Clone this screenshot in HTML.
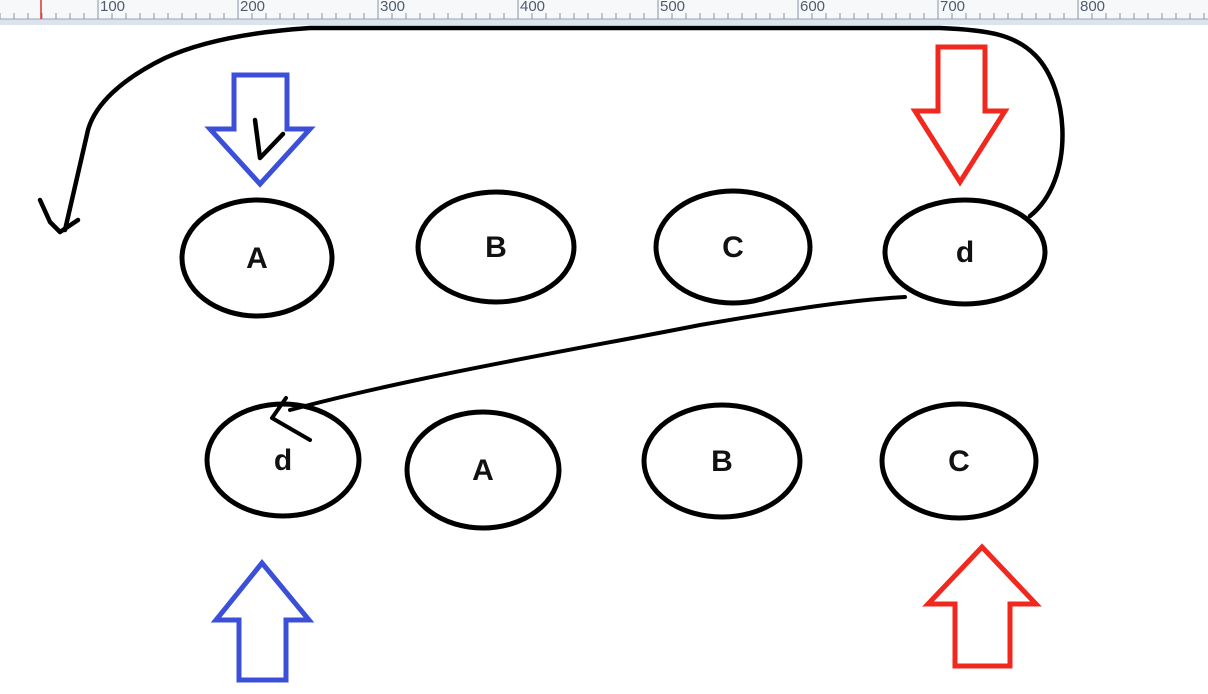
<!DOCTYPE html>
<html><head><meta charset="utf-8"><style>
html,body{margin:0;padding:0;background:#fff;}
svg{display:block;}
text{font-family:"Liberation Sans",sans-serif;font-weight:bold;}
</style></head><body>
<svg id="s" width="1208" height="694" viewBox="0 0 1208 694" xmlns="http://www.w3.org/2000/svg">
<rect x="0" y="0" width="1208" height="19" fill="#f7f8fa"/>
<rect x="0" y="19" width="1208" height="6" fill="#dde3ec"/>
<line x1="0" y1="19" x2="1208" y2="19" stroke="#9aa3b0" stroke-width="1"/>
<g id="ticks"></g>
<line x1="41" y1="0" x2="41" y2="19" stroke="#d33" stroke-width="1.5"/>
<g id="ells"></g>
<path d="M234,75 H287 V129 H310 L260,184 L210,129 H234 Z" fill="none" stroke="#3c4fd8" stroke-width="5"/>
<path d="M938,47 H985 V111 H1005 L960,182 L915,111 H938 Z" fill="none" stroke="#f0281e" stroke-width="5"/>
<path d="M262,563 L309,620 H286 V680 H239 V620 H216 Z" fill="none" stroke="#3c4fd8" stroke-width="5"/>
<path d="M982,547 L1036,604 H1010 V666 H955 V604 H928 Z" fill="none" stroke="#f0281e" stroke-width="5"/>
<path d="M1030,216 C1075,180 1070,90 1035,55 C1015,35 990,30 940,28 L310,28 C250,32 200,42 165,58 C120,80 95,105 88,130 C80,165 72,200 65,230" fill="none" stroke="#000" stroke-width="4.5" stroke-linecap="round"/>
<path d="M40,200 L50,222 L60,232 L78,220" fill="none" stroke="#000" stroke-width="4.5" stroke-linecap="round" stroke-linejoin="round"/>
<path d="M255,120 L260,158 L283,134" fill="none" stroke="#000" stroke-width="4.5" stroke-linecap="round" stroke-linejoin="round"/>
<path d="M905,297 C850,300 800,308 700,325 C600,345 420,375 290,410" fill="none" stroke="#000" stroke-width="4" stroke-linecap="round"/>
<path d="M286,398 L272,418 L310,440" fill="none" stroke="#000" stroke-width="4" stroke-linecap="round" stroke-linejoin="round"/>
</svg>
<script>
const NS="http://www.w3.org/2000/svg";
const tickLabels=["100","200","300","400","500","600","700","800"];
const nodeLabels=["A","B","C","d","d","A","B","C"];
const nodeCx=[257,496,733,965,283,483,722,959];
const nodeCy=[258,247,247,252,460,470,461,461];
const nodeRx=[75,78,77,80,76,76,78,77];
const nodeRy=[58,55,56,52,56,58,56,57];
const tg=document.getElementById('ticks');
for(let i=0;i<=86;i++){
  const x=i*14;
  const major=(i%10)===7;
  const l=document.createElementNS(NS,'line');
  l.setAttribute('x1',x);l.setAttribute('x2',x);
  l.setAttribute('y1',major?0:13);l.setAttribute('y2',19);
  l.setAttribute('stroke','#8a94a3');l.setAttribute('stroke-width','1');
  
  
  tg.appendChild(l);
}
tickLabels.forEach((t,i)=>{
  const tx=document.createElementNS(NS,'text');
  tx.setAttribute('x',100+i*140);tx.setAttribute('y',11);
  tx.setAttribute('font-size','15');tx.setAttribute('fill','#4f5b6e');
  tx.setAttribute('style','font-weight:normal');
  tx.textContent=t;
  
  
  tg.appendChild(tx);
});
const eg=document.getElementById('ells');
nodeLabels.forEach((lab,i)=>{
  const g=document.createElementNS(NS,'g');
  
  
  const e=document.createElementNS(NS,'ellipse');
  e.setAttribute('cx',nodeCx[i]);e.setAttribute('cy',nodeCy[i]);
  e.setAttribute('rx',nodeRx[i]);e.setAttribute('ry',nodeRy[i]);
  e.setAttribute('fill','none');e.setAttribute('stroke','#000');e.setAttribute('stroke-width','5');
  g.appendChild(e);
  const t=document.createElementNS(NS,'text');
  t.setAttribute('x',nodeCx[i]);t.setAttribute('y',nodeCy[i]+10);
  t.setAttribute('text-anchor','middle');t.setAttribute('font-size','30');t.setAttribute('fill','#111');
  t.textContent=lab;
  g.appendChild(t);
  eg.appendChild(g);
});
</script>
</body></html>
